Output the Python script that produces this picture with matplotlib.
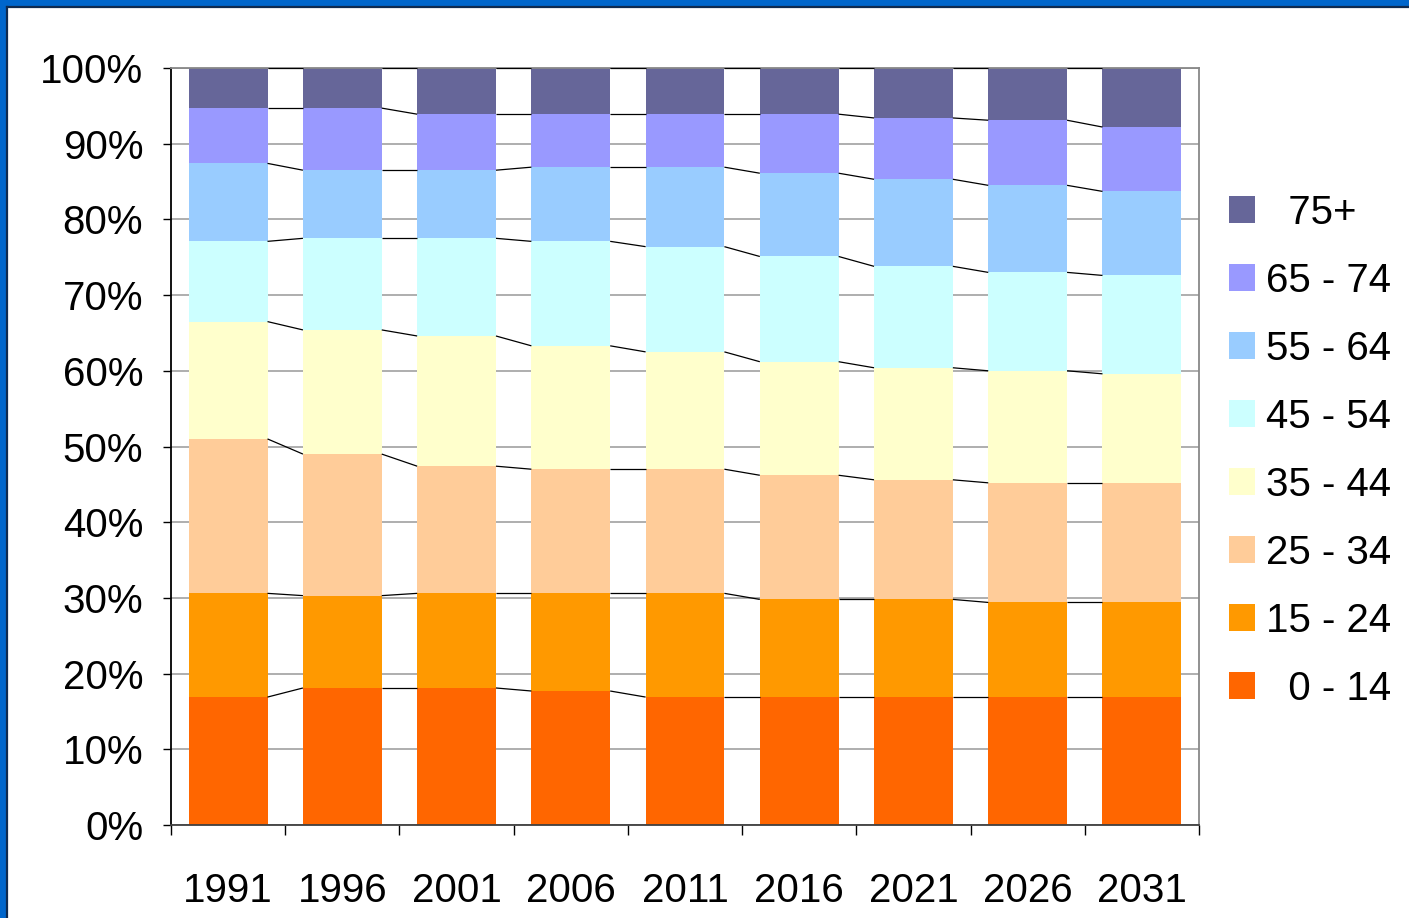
import matplotlib
matplotlib.use("Agg")
import matplotlib.pyplot as plt
from matplotlib.patches import Rectangle
from matplotlib.lines import Line2D
import numpy as np

plt.rcParams['font.family'] = ['Liberation Sans', 'DejaVu Sans']

years = ['1991', '1996', '2001', '2006', '2011', '2016', '2021', '2026', '2031']
age_groups = ['0 - 14', '15 - 24', '25 - 34', '35 - 44', '45 - 54', '55 - 64', '65 - 74', '75+']
legend_labels = ['  0 - 14', '15 - 24', '25 - 34', '35 - 44', '45 - 54', '55 - 64', '65 - 74', '  75+']
colors = ['#FF6600', '#FF9900', '#FFCC99', '#FFFFCC', '#CCFFFF', '#99CCFF', '#9999FF', '#666699']

# population share (%) per age group, one list per group, one value per year
age_0_14 = [16.9, 18.1, 18.1, 17.7, 16.9, 16.9, 16.9, 16.9, 16.9]
age_15_24 = [13.7, 12.2, 12.5, 12.9, 13.7, 12.9, 12.9, 12.5, 12.5]
age_25_34 = [20.4, 18.7, 16.8, 16.4, 16.4, 16.4, 15.8, 15.8, 15.8]
age_35_44 = [15.5, 16.4, 17.2, 16.3, 15.5, 15.0, 14.8, 14.8, 14.4]
age_45_54 = [10.6, 12.1, 12.9, 13.8, 13.9, 13.9, 13.4, 13.0, 13.0]
age_55_64 = [10.3, 9.0, 9.0, 9.8, 10.5, 11.0, 11.5, 11.5, 11.1]
age_65_74 = [7.3, 8.2, 7.4, 7.0, 7.0, 7.8, 8.1, 8.6, 8.5]
age_75_plus = [5.3, 5.3, 6.1, 6.1, 6.1, 6.1, 6.6, 6.9, 7.8]

series = np.array([age_0_14, age_15_24, age_25_34, age_35_44,
                   age_45_54, age_55_64, age_65_74, age_75_plus], dtype=float)
shares = series / series.sum(axis=0) * 100.0
cum = np.cumsum(shares, axis=0)
bottoms = cum - shares

W, H = 1409, 918
fig = plt.figure(figsize=(W / 100, H / 100), dpi=100)
fig.patch.set_facecolor('white')

# blue frame on the top and left edges
fig.patches.append(Rectangle((0, 0), 6 / W, 1, transform=fig.transFigure,
                             facecolor='#0066CC', edgecolor='none', zorder=0))
fig.patches.append(Rectangle((0, 1 - 6 / H), 1, 6 / H, transform=fig.transFigure,
                             facecolor='#0066CC', edgecolor='none', zorder=0))
fig.lines.append(Line2D([6.5 / W, 6.5 / W], [0, 1 - 6.5 / H], transform=fig.transFigure,
                        color='#0F2A4F', lw=1.6))
fig.lines.append(Line2D([6.5 / W, 1], [1 - 6.5 / H, 1 - 6.5 / H], transform=fig.transFigure,
                        color='#0F2A4F', lw=1.6))

ax = fig.add_axes([171 / W, 1 - 825 / H, 1028 / W, 757 / H])
x = np.arange(len(years))
width = 0.69

for k in range(len(age_groups)):
    ax.bar(x, shares[k], bottom=bottoms[k], width=width, color=colors[k],
           edgecolor='none', label=legend_labels[k], zorder=2)

# series lines joining the top of each segment between neighbouring bars
for k in range(len(age_groups)):
    for i in range(len(years) - 1):
        ax.plot([x[i] + width / 2, x[i + 1] - width / 2], [cum[k][i], cum[k][i + 1]],
                color='black', lw=0.9, zorder=3, solid_capstyle='butt')

ax.set_xlim(-0.5, len(years) - 0.5)
ax.set_ylim(0, 100)
ax.set_axisbelow(True)
ax.yaxis.grid(True, color='#A8A8A8', lw=1.3, zorder=0)

ax.set_yticks(np.arange(0, 101, 10))
ax.set_yticklabels([f'{v}%' for v in range(0, 101, 10)], fontsize=29)
ax.tick_params(axis='y', direction='out', length=6, width=1, color='black', pad=14)

ax.set_xticks(x)
ax.set_xticklabels(years, fontsize=29)
ax.set_xticks(np.arange(-0.5, len(years), 1.0), minor=True)
ax.tick_params(axis='x', which='major', length=0, pad=34)
ax.tick_params(axis='x', which='minor', direction='out', length=7.5, width=1, color='black')

ax.spines['left'].set_color('black')
ax.spines['bottom'].set_color('#404040')
ax.spines['top'].set_color('#888888')
ax.spines['right'].set_color('#888888')
for s in ax.spines.values():
    s.set_linewidth(1.3)

handles, labels = ax.get_legend_handles_labels()
leg = fig.legend(handles[::-1], labels[::-1], loc='upper left',
                 bbox_to_anchor=(1229 / W, 1 - 194 / H), frameon=False,
                 fontsize=29, handlelength=0.65, handleheight=0.65,
                 handletextpad=0.28, labelspacing=0.745, borderpad=0, borderaxespad=0)

fig.savefig('out.png', dpi=100, facecolor='white')
